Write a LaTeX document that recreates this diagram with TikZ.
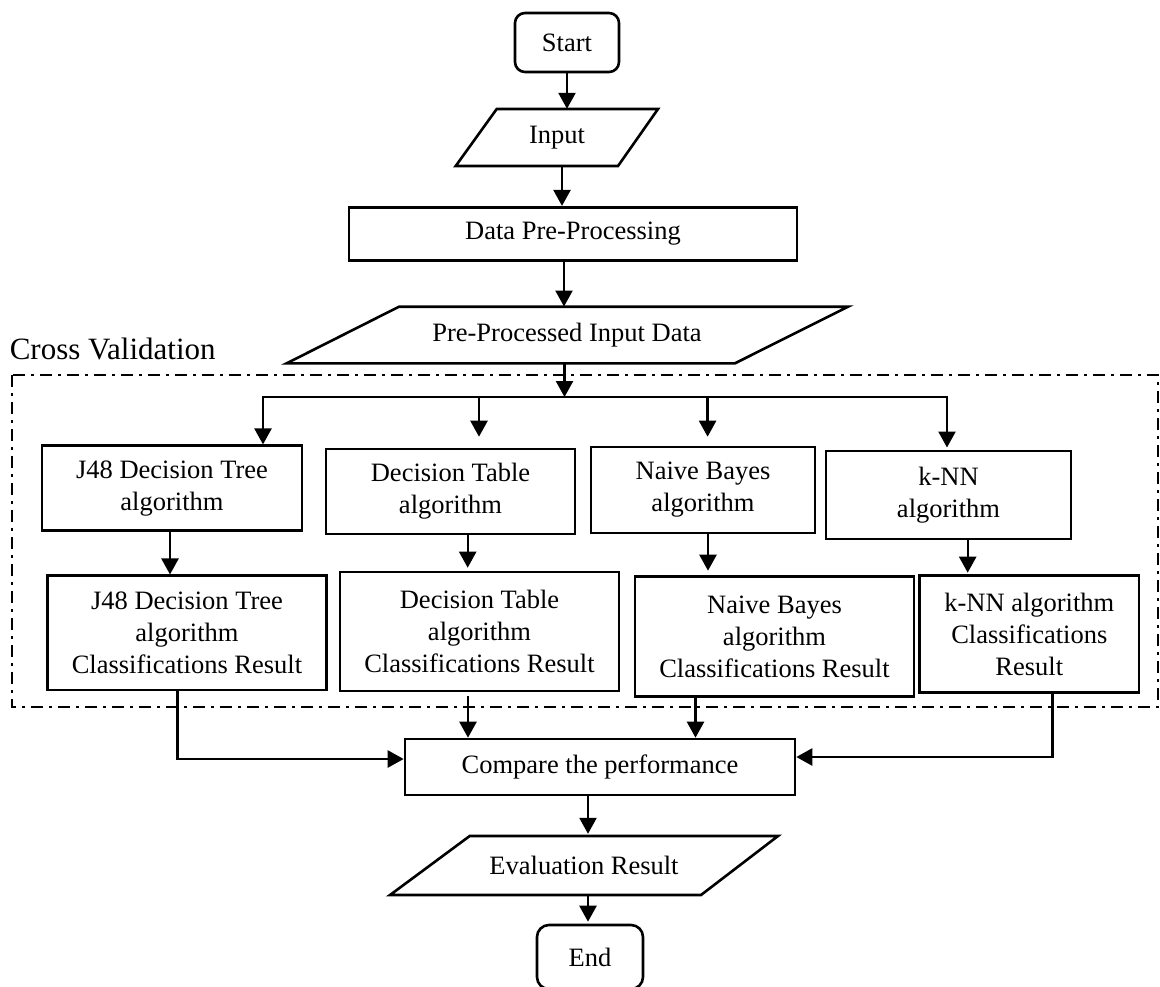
\documentclass[tikz,border=0pt]{standalone}
\usepackage{fontspec}
\setmainfont{Liberation Serif}
\usetikzlibrary{arrows.meta,calc}
\begin{document}
\begin{tikzpicture}[x=1pt,y=-1pt,
  box/.style={draw,line width=2.6pt,align=center,inner sep=0pt,font=\fontsize{26.5}{32}\selectfont},
  txt/.style={align=center,inner sep=0pt,font=\fontsize{26.5}{32}\selectfont},
  io/.style={draw,line width=2.6pt,line join=miter},
  arr/.style={line width=2.4pt,-{Triangle[length=16pt,width=17pt]}},
  cv/.style={line width=2pt,dash pattern=on 12pt off 6pt on 3pt off 6pt}]
\useasboundingbox (0,0) rectangle (1160,986);

% cross validation frame
\draw[cv] (11.5,375) rectangle (1158,706.7);
\node[anchor=base west,inner sep=0pt,font=\fontsize{31}{36}\selectfont] (cvlabel) at (9.6,359) {Cross Validation};

% top chain
\node[box,rounded corners=10pt,minimum width=104pt,minimum height=59pt] (start) at (567,42.5) {Start};
\node[txt,minimum width=120pt,minimum height=57pt] (in) at (557,137.5) {Input};
\draw[io] (496.7,109) -- (658,109) -- (618,166) -- (455.7,166) -- cycle;
\node[box,minimum width=448pt,minimum height=53pt] (dpp) at (573,233.7) {Data Pre-Processing};
\node[txt,minimum width=448pt,minimum height=56.6pt] (ppid) at (567,335) {Pre-Processed Input Data};
\draw[io] (399,306.7) -- (848,306.7) -- (735,363.3) -- (286.7,363.3) -- cycle;

\draw[arr] (start.south) -- (start.south |- in.north);
\draw[arr] ([xshift=5pt]in.south) -- ([xshift=5pt]in.south |- dpp.north);
\draw[arr] ([xshift=-9pt]dpp.south) -- ([xshift=-9pt]dpp.south |- ppid.north);

% algorithm boxes
\node[box,minimum width=260pt,minimum height=85pt] (j48) at (172,488.2) {J48 Decision Tree\\algorithm};
\node[box,minimum width=249pt,minimum height=85pt] (dt) at (450.5,491.5) {Decision Table\\algorithm};
\node[box,minimum width=224pt,minimum height=86pt] (nb) at (703,490) {Naive Bayes\\algorithm};
\node[box,minimum width=245pt,minimum height=88pt] (knn) at (948.5,494.8) {k-NN\\algorithm};

% result boxes
\node[box,minimum width=278.6pt,minimum height=114.3pt] (j48r) at (187,632.9) {J48 Decision Tree\\algorithm\\Classifications Result};
\node[box,minimum width=279pt,minimum height=119pt] (dtr) at (479.5,631.5) {Decision Table\\algorithm\\Classifications Result};
\node[box,minimum width=279pt,minimum height=120pt] (nbr) at (774.5,636.7) {Naive Bayes\\algorithm\\Classifications Result};
\node[box,minimum width=219.4pt,minimum height=117pt] (knnr) at (1029.3,634.2) {k-NN algorithm\\Classifications\\Result};

% split
\coordinate (split) at (564.5,397);
\coordinate (b1) at (263,397);
\coordinate (b2) at (479,397);
\coordinate (b3) at (707.6,397);
\coordinate (b4) at (947,397);
\draw[arr] ([xshift=-2.5pt]ppid.south) -- (split);
\draw[arr] (split) -| (b1 |- j48.north);
\draw[arr,shorten >=2pt] (split) -| (b4 |- knn.north);
\draw[arr,shorten >=11pt] (b2) -- (b2 |- dt.north);
\draw[arr,shorten >=9pt] (b3) -- (b3 |- nb.north);

% algorithm -> result
\draw[arr] ([xshift=-2pt]j48.south) -- ([xshift=-2pt]j48.south |- j48r.north);
\draw[arr,shorten >=3pt] ([xshift=17.2pt]dt.south) -- ([xshift=17.2pt]dt.south |- dtr.north);
\draw[arr,shorten >=4.7pt] ([xshift=5pt]nb.south) -- ([xshift=5pt]nb.south |- nbr.north);
\draw[arr,shorten >=1.7pt] ([xshift=19.2pt]knn.south) -- ([xshift=19.2pt]knn.south |- knnr.north);

% compare
\node[box,minimum width=390pt,minimum height=56pt] (cmp) at (600,767) {Compare the performance};
\draw[arr] ([xshift=-9.5pt]j48r.south) |- ([yshift=8pt]cmp.west);
\draw[arr,shorten <=4pt] ([xshift=-11.5pt]dtr.south) -- ([xshift=-11.5pt]dtr.south |- cmp.north);
\draw[arr] ([xshift=-79pt]nbr.south) -- ([xshift=-79pt]nbr.south |- cmp.north);
\draw[arr] ([xshift=23.2pt]knnr.south) |- ([yshift=10pt]cmp.east);

% evaluation and end
\node[txt,minimum width=230pt,minimum height=59pt] (ev) at (584,865.5) {Evaluation Result};
\draw[io] (469.7,836) -- (778,836) -- (701,895) -- (390,895) -- cycle;
\node[box,rounded corners=12pt,minimum width=106pt,minimum height=64pt] (end) at (590,957) {End};
\draw[arr,shorten >=2pt] ([xshift=-12pt]cmp.south) -- ([xshift=-12pt]cmp.south |- ev.north);
\draw[arr,shorten >=2pt] ([xshift=4pt]ev.south) -- ([xshift=4pt]ev.south |- end.north);
\end{tikzpicture}
\end{document}
